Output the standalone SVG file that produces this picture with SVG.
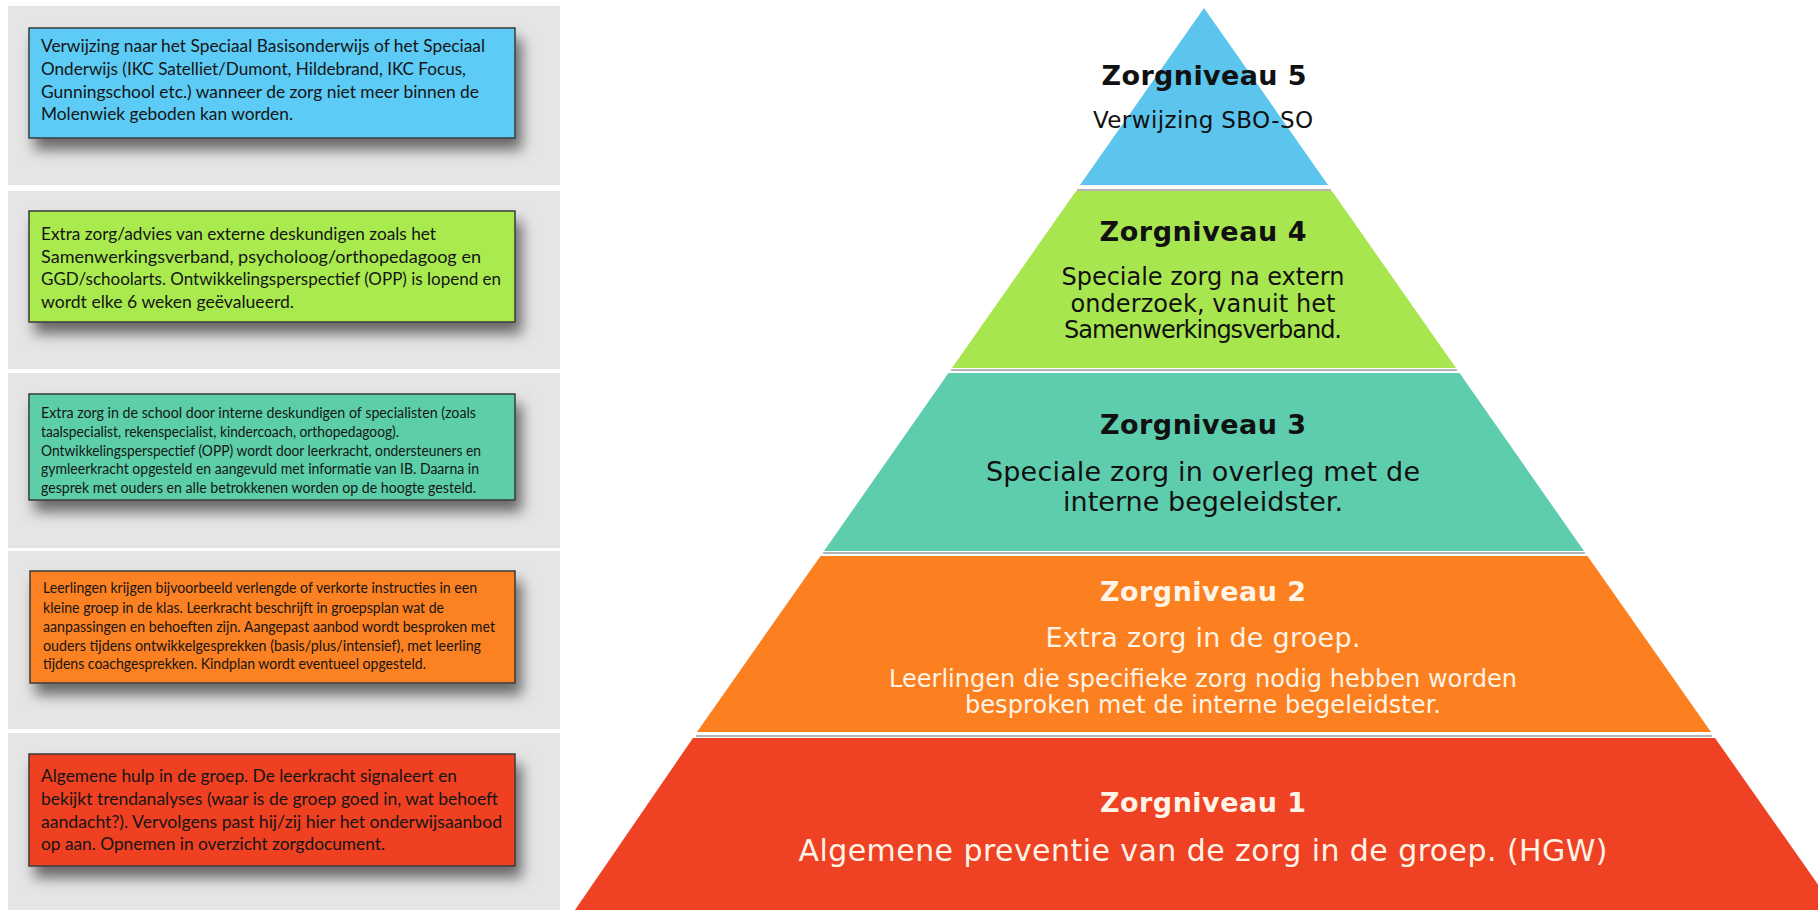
<svg xmlns="http://www.w3.org/2000/svg" width="1818" height="910" viewBox="0 0 1818 910">
<defs>
<filter id="sh" x="-10%" y="-30%" width="130%" height="180%">
<feDropShadow dx="6" dy="11" stdDeviation="7" flood-color="#000" flood-opacity="0.55"/>
</filter>
<style>
.panel{fill:#e5e5e5}
.box{stroke:#3a3a3a;stroke-width:1.5}
.bt{font-family:Lato,"Liberation Sans",sans-serif;font-size:17.5px;fill:#151515}
.bs{font-family:Lato,"Liberation Sans",sans-serif;font-size:14.5px;fill:#151515}
.zt{font-family:"DejaVu Sans",Verdana,sans-serif;font-weight:bold;font-size:27px;text-anchor:middle}
.zb{font-family:"DejaVu Sans",Verdana,sans-serif;text-anchor:middle}
.dk{fill:#111}
.lt{fill:#fff4e6}
.sep{stroke:#b4b4b4;stroke-width:2}
</style>
</defs>
<rect width="1818" height="910" fill="#fff"/>
<g id="panels">
<rect class="panel" x="8" y="6" width="552" height="179"/>
<rect class="panel" x="8" y="191" width="552" height="178"/>
<rect class="panel" x="8" y="373" width="552" height="175"/>
<rect class="panel" x="8" y="551" width="552" height="178"/>
<rect class="panel" x="8" y="733" width="552" height="177"/>
</g>
<g id="box5">
<rect class="box" x="29" y="28" width="486" height="110" fill="#5ccbf5" filter="url(#sh)"/>
<text class="bt" x="41" y="51.5" textLength="444" lengthAdjust="spacingAndGlyphs">Verwijzing naar het Speciaal Basisonderwijs of het Speciaal</text>
<text class="bt" x="41" y="74.5" textLength="425" lengthAdjust="spacingAndGlyphs">Onderwijs (IKC Satelliet/Dumont, Hildebrand, IKC Focus,</text>
<text class="bt" x="41" y="97.5" textLength="438" lengthAdjust="spacingAndGlyphs">Gunningschool etc.) wanneer de zorg niet meer binnen de</text>
<text class="bt" x="41" y="120" textLength="252" lengthAdjust="spacingAndGlyphs">Molenwiek geboden kan worden.</text>
</g>
<g id="box4">
<rect class="box" x="29" y="211" width="486" height="111" fill="#a9eb50" filter="url(#sh)"/>
<text class="bt" x="41" y="240" textLength="395" lengthAdjust="spacingAndGlyphs">Extra zorg/advies van externe deskundigen zoals het</text>
<text class="bt" x="41" y="262.5" textLength="440" lengthAdjust="spacingAndGlyphs">Samenwerkingsverband, psycholoog/orthopedagoog en</text>
<text class="bt" x="41" y="285" textLength="460" lengthAdjust="spacingAndGlyphs">GGD/schoolarts. Ontwikkelingsperspectief (OPP) is lopend en</text>
<text class="bt" x="41" y="307.5" textLength="253" lengthAdjust="spacingAndGlyphs">wordt elke 6 weken geëvalueerd.</text>
</g>
<g id="box3">
<rect class="box" x="29" y="394" width="486" height="106" fill="#5ccfa9" filter="url(#sh)"/>
<text class="bs" x="41" y="418" textLength="435" lengthAdjust="spacingAndGlyphs">Extra zorg in de school door interne deskundigen of specialisten (zoals</text>
<text class="bs" x="41" y="436.7" textLength="358" lengthAdjust="spacingAndGlyphs">taalspecialist, rekenspecialist, kindercoach, orthopedagoog).</text>
<text class="bs" x="41" y="455.5" textLength="440" lengthAdjust="spacingAndGlyphs">Ontwikkelingsperspectief (OPP) wordt door leerkracht, ondersteuners en</text>
<text class="bs" x="41" y="474" textLength="438" lengthAdjust="spacingAndGlyphs">gymleerkracht opgesteld en aangevuld met informatie van IB. Daarna in</text>
<text class="bs" x="41" y="492.7" textLength="435" lengthAdjust="spacingAndGlyphs">gesprek met ouders en alle betrokkenen worden op de hoogte gesteld.</text>
</g>
<g id="box2">
<rect class="box" x="30" y="571" width="485" height="112" fill="#fb8123" filter="url(#sh)"/>
<text class="bs" x="43" y="593" textLength="434" lengthAdjust="spacingAndGlyphs">Leerlingen krijgen bijvoorbeeld verlengde of verkorte instructies in een</text>
<text class="bs" x="43" y="612.5" textLength="401" lengthAdjust="spacingAndGlyphs">kleine groep in de klas. Leerkracht beschrijft in groepsplan wat de</text>
<text class="bs" x="43" y="631.5" textLength="452" lengthAdjust="spacingAndGlyphs">aanpassingen en behoeften zijn. Aangepast aanbod wordt besproken met</text>
<text class="bs" x="43" y="650.5" textLength="438" lengthAdjust="spacingAndGlyphs">ouders tijdens ontwikkelgesprekken (basis/plus/intensief), met leerling</text>
<text class="bs" x="43" y="669.3" textLength="383" lengthAdjust="spacingAndGlyphs">tijdens coachgesprekken. Kindplan wordt eventueel opgesteld.</text>
</g>
<g id="box1">
<rect class="box" x="29" y="754" width="486" height="112" fill="#ef4124" filter="url(#sh)"/>
<text class="bt" x="41" y="781.5" textLength="416" lengthAdjust="spacingAndGlyphs">Algemene hulp in de groep. De leerkracht signaleert en</text>
<text class="bt" x="41" y="804.5" textLength="457" lengthAdjust="spacingAndGlyphs">bekijkt trendanalyses (waar is de groep goed in, wat behoeft</text>
<text class="bt" x="41" y="827.5" textLength="461" lengthAdjust="spacingAndGlyphs">aandacht?). Vervolgens past hij/zij hier het onderwijsaanbod</text>
<text class="bt" x="41" y="850" textLength="344" lengthAdjust="spacingAndGlyphs">op aan. Opnemen in overzicht zorgdocument.</text>
</g>
<g id="level5">
<polygon points="1204,8 1328,185 1080,185" fill="#5bc5ee"/>
<text class="zt dk" x="1204" y="85" textLength="205">Zorgniveau 5</text>
<text class="zb dk" x="1203" y="128" font-size="23" textLength="220">Verwijzing SBO-SO</text>
</g>
<g id="level4">
<line class="sep" x1="1077" y1="190" x2="1331" y2="190"/>
<polygon points="1076,191 1332,191 1456,368 952,368" fill="#a8e64f"/>
<text class="zt dk" x="1203" y="241" textLength="207">Zorgniveau 4</text>
<text class="zb dk" x="1203" y="285" font-size="24" textLength="283">Speciale zorg na extern</text>
<text class="zb dk" x="1203" y="312" font-size="24" textLength="265">onderzoek, vanuit het</text>
<text class="zb dk" x="1203" y="338" font-size="24" textLength="278">Samenwerkingsverband.</text>
</g>
<g id="level3">
<line class="sep" x1="951" y1="370" x2="1457" y2="370"/>
<polygon points="948.5,373 1459.5,373 1584,551 824,551" fill="#5ecdad"/>
<text class="zt dk" x="1203" y="434" textLength="206">Zorgniveau 3</text>
<text class="zb dk" x="1203" y="481" font-size="27" textLength="434">Speciale zorg in overleg met de</text>
<text class="zb dk" x="1203" y="511" font-size="27" textLength="280">interne begeleidster.</text>
</g>
<g id="level2">
<line class="sep" x1="823" y1="553" x2="1585" y2="553"/>
<polygon points="820.5,556 1587.5,556 1711,732 697,732" fill="#fc7f20"/>
<text class="zt lt" x="1203" y="601" textLength="206">Zorgniveau 2</text>
<text class="zb lt" x="1203" y="647" font-size="27" textLength="315">Extra zorg in de groep.</text>
<text class="zb lt" x="1203" y="687" font-size="24" textLength="628">Leerlingen die specifieke zorg nodig hebben worden</text>
<text class="zb lt" x="1203" y="713" font-size="24" textLength="476">besproken met de interne begeleidster.</text>
</g>
<g id="level1">
<line class="sep" x1="696" y1="736" x2="1712" y2="736"/>
<polygon points="693,738 1715,738 1836,910 575,910" fill="#ef4123"/>
<text class="zt lt" x="1203" y="812" textLength="206">Zorgniveau 1</text>
<text class="zb lt" x="1203" y="861" font-size="30" textLength="809">Algemene preventie van de zorg in de groep. (HGW)</text>
</g>
<g id="connectors"/>
</svg>
